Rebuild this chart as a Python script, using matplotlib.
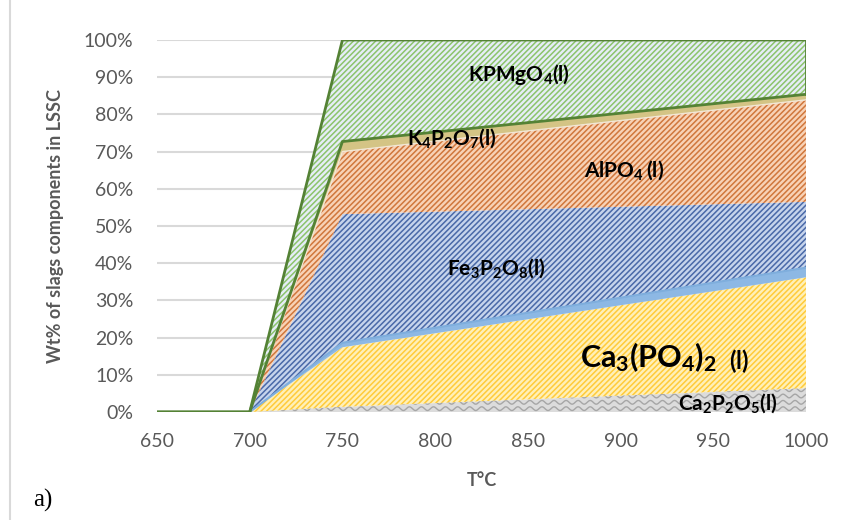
import numpy as np
import matplotlib
matplotlib.use("Agg")
import matplotlib.pyplot as plt
from matplotlib.lines import Line2D

# temperature steps and wt% of each slag component (stacked bottom -> top)
temps = [650, 700, 750, 1000]
ca2p2o5 = [0, 0, 1.4, 6.4]
ca3po42 = [0, 0, 16.0, 29.8]
minor = [0, 0, 1.2, 2.6]
fe3p2o8 = [0, 0, 34.6, 17.7]
alpo4 = [0, 0, 16.8, 27.4]
k4p2o7 = [0, 0, 2.7, 1.5]
kpmgo4 = [0, 0, 27.3, 14.6]

x_ticks = [650, 700, 750, 800, 850, 900, 950, 1000]
y_ticks = [0, 10, 20, 30, 40, 50, 60, 70, 80, 90, 100]

layers = [
    (ca2p2o5, '#DCDCDC', '#DCDCDC', ''),
    (ca3po42, '#FFF0B8', '#FFCB3A', '//////'),
    (minor, '#8DB8E4', '#6FA3D8', ''),
    (fe3p2o8, '#C6D4EC', '#4A69A8', '//////'),
    (alpo4, '#F8D2B6', '#D0773C', '//////'),
    (k4p2o7, '#D4C485', '#A9B35A', ''),
    (kpmgo4, '#E6EDF7', '#8CC46C', '//////'),
]

plt.rcParams['font.family'] = ['Lato', 'DejaVu Sans']
plt.rcParams['mathtext.fontset'] = 'custom'
plt.rcParams['mathtext.rm'] = 'Lato'
plt.rcParams['mathtext.bf'] = 'Lato:bold'
plt.rcParams['hatch.linewidth'] = 1.1

fig = plt.figure(figsize=(8.51, 5.2), dpi=100)
ax = fig.add_axes([0.1845, 0.2077, 0.7626, 0.7154])

t = np.array(temps, dtype=float)
base = np.zeros(len(temps))
fills = []
for vals, face, hatchc, hatch in layers:
    top = base + np.array(vals)
    f = ax.fill_between(t, base, top, facecolor=face, edgecolor=hatchc,
                        hatch=hatch, linewidth=0, zorder=2)
    fills.append((f, base.copy(), top.copy()))
    base = top

# wavy texture on the bottom band
grey_fill = fills[0][0]
xw = np.linspace(700, 1000, 600)
for y0 in [0.9, 2.6, 4.3, 6.0]:
    ln, = ax.plot(xw, y0 + 0.5 * np.sin((xw - 700) / 6.5 * 2 * np.pi),
                  color='#A6A6A6', lw=1.0, zorder=3)
    ln.set_clip_path(grey_fill.get_paths()[0], grey_fill.get_transform())

# separating edges
cum_minor = fills[2][2]
ax.plot(t, cum_minor, color='#7FAEDD', lw=1.5, zorder=4)
ax.plot(t, fills[4][2], color='#F2E7D5', lw=1.0, zorder=4)
k_top = fills[5][2]
ax.plot(t, k_top, color='#548235', lw=2, zorder=5)
ax.plot(t, fills[6][2], color='#548235', lw=2, zorder=5)
ax.plot([1000, 1000], [k_top[-1], 100], color='#548235', lw=2, zorder=5)

ax.set_xlim(650, 1000)
ax.set_ylim(0, 100)
ax.set_xticks(x_ticks)
ax.set_xticklabels([f'{v}' for v in x_ticks])
ax.set_yticks(y_ticks)
ax.set_yticklabels([f'{v}%' for v in y_ticks])
ax.tick_params(axis='both', length=0, labelsize=14, colors='#595959')
ax.tick_params(axis='x', pad=15)
ax.tick_params(axis='y', pad=17)
ax.grid(axis='y', color='#D9D9D9', lw=1.5, zorder=0)
ax.set_axisbelow(True)
for s in ax.spines.values():
    s.set_visible(False)

ax.set_xlabel('T°C', fontsize=13, fontweight='bold', color='#595959', labelpad=16)
ax.set_ylabel('Wt% of slags components in LSSC', fontsize=13,
              fontweight='bold', color='#595959', labelpad=14)

lab = dict(ha='center', va='center', color='black', zorder=6)
ax.text(845, 90.6, r'$\mathbf{KPMgO_4(l)}$', fontsize=15, **lab)
ax.text(809, 73.6, r'$\mathbf{K_4P_2O_7(l)}$', fontsize=15, **lab)
ax.text(902, 65, r'$\mathbf{AlPO_4\,(l)}$', fontsize=15, **lab)
ax.text(833, 38.7, r'$\mathbf{Fe_3P_2O_8(l)}$', fontsize=15, **lab)
ax.text(915, 14.8, r'$\mathbf{Ca_3(PO_4)_2}$', fontsize=22, **lab)
ax.text(964, 13.6, r'$\mathbf{(l)}$', fontsize=17, **lab)
ax.text(958, 2.4, r'$\mathbf{Ca_2P_2O_5(l)}$', fontsize=15, **lab)

fig.text(0.039, 0.015, 'a)', fontsize=18, family='Liberation Serif',
         color='black', ha='left', va='bottom')
fig.add_artist(Line2D([0.012, 0.012], [0, 1], transform=fig.transFigure,
                      color='#D9D9D9', lw=1.5))

fig.savefig('out.png', dpi=100)
